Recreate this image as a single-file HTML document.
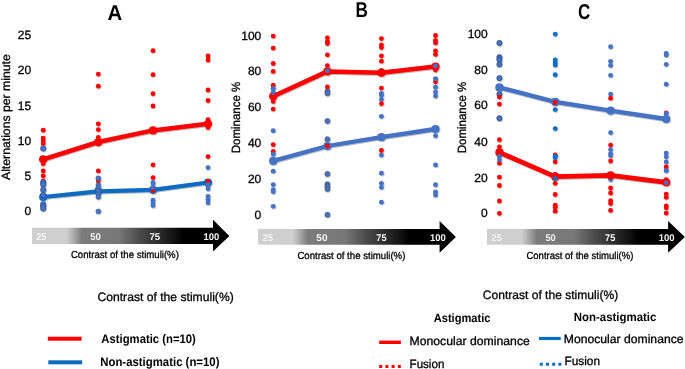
<!DOCTYPE html>
<html><head><meta charset="utf-8"><style>
html,body{margin:0;padding:0;background:#fff;}
body{width:685px;height:369px;overflow:hidden;}
svg{display:block;font-family:"Liberation Sans",sans-serif;will-change:transform;text-rendering:geometricPrecision;}
</style></head><body>
<svg width="685" height="369" viewBox="0 0 685 369" fill="#000">
<defs>
<linearGradient id="gA" gradientUnits="userSpaceOnUse" x1="0" y1="0" x2="197.5" y2="0">
<stop offset="0" stop-color="#d0cfd0"/>
<stop offset="0.175" stop-color="#d0cfd0"/>
<stop offset="0.20" stop-color="#b6b6b6"/>
<stop offset="0.22" stop-color="#a0a0a0"/>
<stop offset="0.237" stop-color="#8c8c8c"/>
<stop offset="0.252" stop-color="#7c7c7c"/>
<stop offset="0.44" stop-color="#787878"/>
<stop offset="0.548" stop-color="#4a4a4a"/>
<stop offset="0.65" stop-color="#2a2a2a"/>
<stop offset="0.727" stop-color="#101010"/>
<stop offset="0.765" stop-color="#000"/>
<stop offset="1" stop-color="#000"/>
</linearGradient>
<filter id="sh" x="-50%" y="-50%" width="200%" height="200%">
<feDropShadow dx="0.6" dy="0.8" stdDeviation="0.5" flood-color="#000" flood-opacity="0.35"/>
</filter>
</defs>
<g filter="url(#sh)">
<polyline points="43.2,159.3 98.3,142.0 153.0,130.4 208.0,123.8" fill="none" stroke="#ff0000" stroke-width="4.5" stroke-linejoin="round" stroke-linecap="round"/><circle cx="43.2" cy="159.3" r="4.1" fill="#ff0000"/><circle cx="98.3" cy="142.0" r="4.1" fill="#ff0000"/><circle cx="153.0" cy="130.4" r="4.1" fill="#ff0000"/><circle cx="208.0" cy="123.8" r="4.1" fill="#ff0000"/>
<polyline points="43.2,197.0 98.3,191.3 153.0,189.8 208.0,182.5" fill="none" stroke="#0b6cc0" stroke-width="4.2" stroke-linejoin="round" stroke-linecap="round"/><circle cx="43.2" cy="197.0" r="4.1" fill="#0b6cc0"/><circle cx="98.3" cy="191.3" r="4.1" fill="#0b6cc0"/><circle cx="153.0" cy="189.8" r="4.1" fill="#0b6cc0"/><circle cx="208.0" cy="182.5" r="4.1" fill="#0b6cc0"/>
<circle cx="43.2" cy="130.2" r="2.4" fill="#ff0000"/><circle cx="43.2" cy="138.1" r="2.4" fill="#ff0000"/><circle cx="43.2" cy="141.0" r="2.4" fill="#ff0000"/><circle cx="43.2" cy="143.7" r="2.4" fill="#ff0000"/><circle cx="43.2" cy="163.7" r="2.4" fill="#ff0000"/><circle cx="43.2" cy="171.0" r="2.4" fill="#ff0000"/><circle cx="43.2" cy="175.8" r="2.4" fill="#ff0000"/><circle cx="43.2" cy="181.0" r="2.4" fill="#ff0000"/><circle cx="43.2" cy="195.0" r="2.4" fill="#ff0000"/><circle cx="98.3" cy="74.1" r="2.4" fill="#ff0000"/><circle cx="98.3" cy="86.2" r="2.4" fill="#ff0000"/><circle cx="98.3" cy="123.8" r="2.4" fill="#ff0000"/><circle cx="98.3" cy="129.6" r="2.4" fill="#ff0000"/><circle cx="98.3" cy="137.4" r="2.4" fill="#ff0000"/><circle cx="98.3" cy="144.1" r="2.4" fill="#ff0000"/><circle cx="98.3" cy="170.9" r="2.4" fill="#ff0000"/><circle cx="98.3" cy="180.9" r="2.4" fill="#ff0000"/><circle cx="153.0" cy="50.7" r="2.4" fill="#ff0000"/><circle cx="153.0" cy="74.7" r="2.4" fill="#ff0000"/><circle cx="153.0" cy="93.7" r="2.4" fill="#ff0000"/><circle cx="153.0" cy="106.0" r="2.4" fill="#ff0000"/><circle cx="153.0" cy="164.8" r="2.4" fill="#ff0000"/><circle cx="153.0" cy="177.6" r="2.4" fill="#ff0000"/><circle cx="153.0" cy="190.5" r="2.4" fill="#ff0000"/><circle cx="208.0" cy="56.0" r="2.4" fill="#ff0000"/><circle cx="208.0" cy="60.0" r="2.4" fill="#ff0000"/><circle cx="208.0" cy="90.0" r="2.4" fill="#ff0000"/><circle cx="208.0" cy="100.5" r="2.4" fill="#ff0000"/><circle cx="208.0" cy="119.6" r="2.4" fill="#ff0000"/><circle cx="208.0" cy="127.6" r="2.4" fill="#ff0000"/><circle cx="208.0" cy="156.6" r="2.4" fill="#ff0000"/><circle cx="208.0" cy="181.4" r="2.4" fill="#ff0000"/>
<circle cx="43.2" cy="148.4" r="2.75" fill="#4472c4" stroke="#2f4f8f" stroke-width="0.6"/><circle cx="43.2" cy="182.3" r="2.75" fill="#4472c4" stroke="#2f4f8f" stroke-width="0.6"/><circle cx="43.2" cy="184.4" r="2.75" fill="#4472c4" stroke="#2f4f8f" stroke-width="0.6"/><circle cx="43.2" cy="189.8" r="2.75" fill="#4472c4" stroke="#2f4f8f" stroke-width="0.6"/><circle cx="43.2" cy="195.0" r="2.75" fill="#4472c4" stroke="#2f4f8f" stroke-width="0.6"/><circle cx="43.2" cy="204.3" r="2.75" fill="#4472c4" stroke="#2f4f8f" stroke-width="0.6"/><circle cx="43.2" cy="206.3" r="2.75" fill="#4472c4" stroke="#2f4f8f" stroke-width="0.6"/><circle cx="43.2" cy="208.4" r="2.75" fill="#4472c4" stroke="#2f4f8f" stroke-width="0.6"/><circle cx="98.3" cy="178.2" r="2.45" fill="#4472c4" stroke="#3a5a90" stroke-width="0.5"/><circle cx="98.3" cy="185.0" r="2.45" fill="#4472c4" stroke="#3a5a90" stroke-width="0.5"/><circle cx="98.3" cy="188.0" r="2.45" fill="#4472c4" stroke="#3a5a90" stroke-width="0.5"/><circle cx="98.3" cy="191.0" r="2.45" fill="#4472c4" stroke="#3a5a90" stroke-width="0.5"/><circle cx="98.3" cy="194.0" r="2.45" fill="#4472c4" stroke="#3a5a90" stroke-width="0.5"/><circle cx="98.3" cy="197.0" r="2.45" fill="#4472c4" stroke="#3a5a90" stroke-width="0.5"/><circle cx="98.3" cy="211.4" r="2.45" fill="#4472c4" stroke="#3a5a90" stroke-width="0.5"/><circle cx="153.0" cy="182.4" r="2.4" fill="#4472c4"/><circle cx="153.0" cy="183.8" r="2.4" fill="#4472c4"/><circle cx="153.0" cy="187.6" r="2.4" fill="#4472c4"/><circle cx="153.0" cy="200.2" r="2.4" fill="#4472c4"/><circle cx="153.0" cy="202.5" r="2.4" fill="#4472c4"/><circle cx="153.0" cy="205.5" r="2.4" fill="#4472c4"/><circle cx="208.0" cy="167.6" r="2.4" fill="#4472c4"/><circle cx="208.0" cy="184.6" r="2.4" fill="#4472c4"/><circle cx="208.0" cy="186.8" r="2.4" fill="#4472c4"/><circle cx="208.0" cy="188.8" r="2.4" fill="#4472c4"/><circle cx="208.0" cy="196.3" r="2.4" fill="#4472c4"/><circle cx="208.0" cy="199.6" r="2.4" fill="#4472c4"/><circle cx="208.0" cy="202.8" r="2.4" fill="#4472c4"/>
<circle cx="273.2" cy="88.5" r="2.4" fill="#4472c4"/><circle cx="273.2" cy="92.6" r="2.4" fill="#4472c4"/><circle cx="273.2" cy="130.7" r="2.4" fill="#4472c4"/><circle cx="273.2" cy="154.1" r="2.4" fill="#4472c4"/><circle cx="273.2" cy="171.2" r="2.4" fill="#4472c4"/><circle cx="273.2" cy="184.6" r="2.4" fill="#4472c4"/><circle cx="273.2" cy="189.6" r="2.4" fill="#4472c4"/><circle cx="273.2" cy="191.7" r="2.4" fill="#4472c4"/><circle cx="273.2" cy="206.3" r="2.4" fill="#4472c4"/><circle cx="327.4" cy="91.3" r="2.5" fill="#4472c4" stroke="#4b5570" stroke-width="0.7"/><circle cx="327.4" cy="93.3" r="2.5" fill="#4472c4" stroke="#4b5570" stroke-width="0.7"/><circle cx="327.4" cy="121.0" r="2.5" fill="#4472c4" stroke="#4b5570" stroke-width="0.7"/><circle cx="327.4" cy="139.2" r="2.5" fill="#4472c4" stroke="#4b5570" stroke-width="0.7"/><circle cx="327.4" cy="173.9" r="2.5" fill="#4472c4" stroke="#4b5570" stroke-width="0.7"/><circle cx="327.4" cy="184.2" r="2.5" fill="#4472c4" stroke="#4b5570" stroke-width="0.7"/><circle cx="327.4" cy="186.3" r="2.5" fill="#4472c4" stroke="#4b5570" stroke-width="0.7"/><circle cx="327.4" cy="189.0" r="2.5" fill="#4472c4" stroke="#4b5570" stroke-width="0.7"/><circle cx="327.4" cy="214.7" r="2.5" fill="#4472c4" stroke="#4b5570" stroke-width="0.7"/><circle cx="381.4" cy="70.3" r="2.4" fill="#4472c4"/><circle cx="381.4" cy="93.3" r="2.4" fill="#4472c4"/><circle cx="381.4" cy="95.3" r="2.4" fill="#4472c4"/><circle cx="381.4" cy="99.4" r="2.4" fill="#4472c4"/><circle cx="381.4" cy="116.3" r="2.4" fill="#4472c4"/><circle cx="381.4" cy="155.1" r="2.4" fill="#4472c4"/><circle cx="381.4" cy="173.2" r="2.4" fill="#4472c4"/><circle cx="381.4" cy="183.3" r="2.4" fill="#4472c4"/><circle cx="381.4" cy="187.3" r="2.4" fill="#4472c4"/><circle cx="381.4" cy="202.2" r="2.4" fill="#4472c4"/><circle cx="435.5" cy="78.8" r="2.4" fill="#4472c4"/><circle cx="435.5" cy="87.2" r="2.4" fill="#4472c4"/><circle cx="435.5" cy="91.9" r="2.4" fill="#4472c4"/><circle cx="435.5" cy="96.0" r="2.4" fill="#4472c4"/><circle cx="435.5" cy="135.7" r="2.4" fill="#4472c4"/><circle cx="435.5" cy="164.9" r="2.4" fill="#4472c4"/><circle cx="435.5" cy="184.7" r="2.4" fill="#4472c4"/><circle cx="435.5" cy="192.0" r="2.4" fill="#4472c4"/><circle cx="435.5" cy="195.0" r="2.4" fill="#4472c4"/>
<circle cx="273.2" cy="36.1" r="2.4" fill="#ff0000"/><circle cx="273.2" cy="48.1" r="2.4" fill="#ff0000"/><circle cx="273.2" cy="63.5" r="2.4" fill="#ff0000"/><circle cx="273.2" cy="71.4" r="2.4" fill="#ff0000"/><circle cx="273.2" cy="85.2" r="2.4" fill="#ff0000"/><circle cx="273.2" cy="101.4" r="2.4" fill="#ff0000"/><circle cx="273.2" cy="109.1" r="2.4" fill="#ff0000"/><circle cx="273.2" cy="144.6" r="2.4" fill="#ff0000"/><circle cx="273.2" cy="151.4" r="2.4" fill="#ff0000"/><circle cx="327.4" cy="37.8" r="2.4" fill="#ff0000"/><circle cx="327.4" cy="41.6" r="2.4" fill="#ff0000"/><circle cx="327.4" cy="43.6" r="2.4" fill="#ff0000"/><circle cx="327.4" cy="54.8" r="2.4" fill="#ff0000"/><circle cx="327.4" cy="65.7" r="2.4" fill="#ff0000"/><circle cx="327.4" cy="86.9" r="2.4" fill="#ff0000"/><circle cx="381.4" cy="38.6" r="2.4" fill="#ff0000"/><circle cx="381.4" cy="44.9" r="2.4" fill="#ff0000"/><circle cx="381.4" cy="47.6" r="2.4" fill="#ff0000"/><circle cx="381.4" cy="55.8" r="2.4" fill="#ff0000"/><circle cx="381.4" cy="61.2" r="2.4" fill="#ff0000"/><circle cx="381.4" cy="88.1" r="2.4" fill="#ff0000"/><circle cx="381.4" cy="103.7" r="2.4" fill="#ff0000"/><circle cx="381.4" cy="150.5" r="2.4" fill="#ff0000"/><circle cx="435.5" cy="35.5" r="2.4" fill="#ff0000"/><circle cx="435.5" cy="40.5" r="2.4" fill="#ff0000"/><circle cx="435.5" cy="42.9" r="2.4" fill="#ff0000"/><circle cx="435.5" cy="50.8" r="2.4" fill="#ff0000"/><circle cx="435.5" cy="54.4" r="2.4" fill="#ff0000"/><circle cx="435.5" cy="70.0" r="2.4" fill="#ff0000"/><circle cx="435.5" cy="81.8" r="2.4" fill="#ff0000"/>
<polyline points="273.2,96.3 327.4,71.4 381.4,72.7 435.5,66.6" fill="none" stroke="#ff0000" stroke-width="4.5" stroke-linejoin="round" stroke-linecap="round"/><circle cx="273.2" cy="96.3" r="4.1" fill="#ff0000"/><circle cx="327.4" cy="71.4" r="4.1" fill="#ff0000"/><circle cx="381.4" cy="72.7" r="4.1" fill="#ff0000"/><circle cx="435.5" cy="66.6" r="4.1" fill="#ff0000"/>
<circle cx="273.2" cy="88.5" r="2.4" fill="#4472c4"/><circle cx="273.2" cy="92.6" r="2.4" fill="#4472c4"/><circle cx="273.2" cy="154.1" r="2.4" fill="#4472c4"/><circle cx="327.4" cy="70.7" r="2.4" fill="#4472c4"/><circle cx="435.5" cy="65.9" r="2.4" fill="#4472c4"/><circle cx="435.5" cy="78.8" r="2.4" fill="#4472c4"/>
<polyline points="273.2,160.9 327.4,146.0 381.4,137.2 435.5,129.0" fill="none" stroke="#4472c4" stroke-width="4.3" stroke-linejoin="round" stroke-linecap="round"/><circle cx="273.2" cy="160.9" r="4.1" fill="#4472c4"/><circle cx="327.4" cy="146.0" r="4.1" fill="#4472c4"/><circle cx="381.4" cy="137.2" r="4.1" fill="#4472c4"/><circle cx="435.5" cy="129.0" r="4.1" fill="#4472c4"/>
<circle cx="327.4" cy="146.0" r="2.4" fill="#ff0000"/>
<circle cx="499.4" cy="42.9" r="2.6" fill="#4472c4" stroke="#2d4680" stroke-width="0.7"/><circle cx="499.4" cy="57.2" r="2.6" fill="#4472c4" stroke="#2d4680" stroke-width="0.7"/><circle cx="499.4" cy="59.6" r="2.6" fill="#4472c4" stroke="#2d4680" stroke-width="0.7"/><circle cx="499.4" cy="64.3" r="2.6" fill="#4472c4" stroke="#2d4680" stroke-width="0.7"/><circle cx="499.4" cy="78.1" r="2.6" fill="#4472c4" stroke="#2d4680" stroke-width="0.7"/><circle cx="499.4" cy="94.1" r="2.6" fill="#4472c4" stroke="#2d4680" stroke-width="0.7"/><circle cx="499.4" cy="118.2" r="2.6" fill="#4472c4" stroke="#2d4680" stroke-width="0.7"/><circle cx="555.2" cy="34.1" r="2.45" fill="#0f6fc6"/><circle cx="555.2" cy="60.0" r="2.45" fill="#0f6fc6"/><circle cx="555.2" cy="63.0" r="2.45" fill="#0f6fc6"/><circle cx="555.2" cy="65.0" r="2.45" fill="#0f6fc6"/><circle cx="555.2" cy="74.8" r="2.45" fill="#0f6fc6"/><circle cx="555.2" cy="109.6" r="2.45" fill="#0f6fc6"/><circle cx="555.2" cy="128.6" r="2.45" fill="#0f6fc6"/><circle cx="610.6" cy="46.7" r="2.4" fill="#4472c4"/><circle cx="610.6" cy="61.3" r="2.4" fill="#4472c4"/><circle cx="610.6" cy="65.4" r="2.4" fill="#4472c4"/><circle cx="610.6" cy="75.3" r="2.4" fill="#4472c4"/><circle cx="610.6" cy="94.1" r="2.4" fill="#4472c4"/><circle cx="610.6" cy="132.6" r="2.4" fill="#4472c4"/><circle cx="610.6" cy="149.6" r="2.4" fill="#4472c4"/><circle cx="610.6" cy="153.6" r="2.4" fill="#4472c4"/><circle cx="610.6" cy="155.7" r="2.4" fill="#4472c4"/><circle cx="610.6" cy="179.5" r="2.4" fill="#4472c4"/><circle cx="666.2" cy="53.5" r="2.4" fill="#4472c4"/><circle cx="666.2" cy="55.0" r="2.4" fill="#4472c4"/><circle cx="666.2" cy="64.3" r="2.4" fill="#4472c4"/><circle cx="666.2" cy="84.2" r="2.4" fill="#4472c4"/><circle cx="666.2" cy="153.1" r="2.4" fill="#4472c4"/><circle cx="666.2" cy="156.8" r="2.4" fill="#4472c4"/><circle cx="666.2" cy="162.0" r="2.4" fill="#4472c4"/><circle cx="666.2" cy="170.5" r="2.4" fill="#4472c4"/>
<polyline points="499.4,87.4 555.2,101.9 610.6,110.7 666.2,119.0" fill="none" stroke="#4472c4" stroke-width="4.4" stroke-linejoin="round" stroke-linecap="round"/><circle cx="499.4" cy="87.4" r="4.1" fill="#4472c4"/><circle cx="555.2" cy="101.9" r="4.1" fill="#4472c4"/><circle cx="610.6" cy="110.7" r="4.1" fill="#4472c4"/><circle cx="666.2" cy="119.0" r="4.1" fill="#4472c4"/>
<circle cx="555.2" cy="102.5" r="2.4" fill="#ff0000"/>
<circle cx="499.4" cy="97.1" r="2.4" fill="#ff0000"/><circle cx="499.4" cy="104.1" r="2.4" fill="#ff0000"/><circle cx="499.4" cy="139.7" r="2.4" fill="#ff0000"/><circle cx="499.4" cy="146.8" r="2.4" fill="#ff0000"/><circle cx="499.4" cy="163.2" r="2.4" fill="#ff0000"/><circle cx="499.4" cy="177.1" r="2.4" fill="#ff0000"/><circle cx="499.4" cy="185.5" r="2.4" fill="#ff0000"/><circle cx="499.4" cy="201.0" r="2.4" fill="#ff0000"/><circle cx="499.4" cy="213.3" r="2.4" fill="#ff0000"/><circle cx="555.2" cy="155.0" r="2.4" fill="#ff0000"/><circle cx="555.2" cy="161.8" r="2.4" fill="#ff0000"/><circle cx="555.2" cy="174.3" r="2.4" fill="#ff0000"/><circle cx="555.2" cy="183.3" r="2.4" fill="#ff0000"/><circle cx="555.2" cy="194.5" r="2.4" fill="#ff0000"/><circle cx="555.2" cy="205.2" r="2.4" fill="#ff0000"/><circle cx="555.2" cy="207.2" r="2.4" fill="#ff0000"/><circle cx="555.2" cy="211.2" r="2.4" fill="#ff0000"/><circle cx="610.6" cy="98.2" r="2.4" fill="#ff0000"/><circle cx="610.6" cy="145.1" r="2.4" fill="#ff0000"/><circle cx="610.6" cy="161.0" r="2.4" fill="#ff0000"/><circle cx="610.6" cy="188.0" r="2.4" fill="#ff0000"/><circle cx="610.6" cy="193.0" r="2.4" fill="#ff0000"/><circle cx="610.6" cy="200.7" r="2.4" fill="#ff0000"/><circle cx="610.6" cy="203.6" r="2.4" fill="#ff0000"/><circle cx="610.6" cy="210.4" r="2.4" fill="#ff0000"/><circle cx="666.2" cy="113.0" r="2.4" fill="#ff0000"/><circle cx="666.2" cy="167.0" r="2.4" fill="#ff0000"/><circle cx="666.2" cy="179.6" r="2.4" fill="#ff0000"/><circle cx="666.2" cy="194.1" r="2.4" fill="#ff0000"/><circle cx="666.2" cy="197.3" r="2.4" fill="#ff0000"/><circle cx="666.2" cy="206.0" r="2.4" fill="#ff0000"/><circle cx="666.2" cy="207.8" r="2.4" fill="#ff0000"/><circle cx="666.2" cy="213.1" r="2.4" fill="#ff0000"/>
<polyline points="499.4,152.4 555.2,176.7 610.6,175.4 666.2,182.3" fill="none" stroke="#ff0000" stroke-width="4.7" stroke-linejoin="round" stroke-linecap="round"/><circle cx="499.4" cy="152.4" r="4.1" fill="#ff0000"/><circle cx="555.2" cy="176.7" r="4.1" fill="#ff0000"/><circle cx="610.6" cy="175.4" r="4.1" fill="#ff0000"/><circle cx="666.2" cy="182.3" r="4.1" fill="#ff0000"/>
<circle cx="499.4" cy="156.3" r="2.4" fill="#4472c4"/><circle cx="499.4" cy="159.7" r="2.4" fill="#4472c4"/><circle cx="555.2" cy="156.3" r="2.45" fill="#0f6fc6"/><circle cx="555.2" cy="157.7" r="2.45" fill="#0f6fc6"/><circle cx="555.2" cy="178.7" r="2.45" fill="#0f6fc6"/><circle cx="666.2" cy="182.8" r="2.4" fill="#4472c4"/>
<circle cx="666.2" cy="113.6" r="2.4" fill="#4472c4"/><circle cx="666.2" cy="170.5" r="2.4" fill="#4472c4"/>
</g>
<text x="31.2" y="39.2" text-anchor="end" font-size="12" stroke="#000" stroke-width="0.3">25</text><text x="31.2" y="74.4" text-anchor="end" font-size="12" stroke="#000" stroke-width="0.3">20</text><text x="31.2" y="109.7" text-anchor="end" font-size="12" stroke="#000" stroke-width="0.3">15</text><text x="31.2" y="145.3" text-anchor="end" font-size="12" stroke="#000" stroke-width="0.3">10</text><text x="31.2" y="180.4" text-anchor="end" font-size="12" stroke="#000" stroke-width="0.3">5</text><text x="31.2" y="215.4" text-anchor="end" font-size="12" stroke="#000" stroke-width="0.3">0</text>
<text x="261.3" y="40.1" text-anchor="end" font-size="12" stroke="#000" stroke-width="0.3">100</text><text x="261.3" y="75.4" text-anchor="end" font-size="12" stroke="#000" stroke-width="0.3">80</text><text x="261.3" y="111.0" text-anchor="end" font-size="12" stroke="#000" stroke-width="0.3">60</text><text x="261.3" y="146.8" text-anchor="end" font-size="12" stroke="#000" stroke-width="0.3">40</text><text x="261.3" y="183.0" text-anchor="end" font-size="12" stroke="#000" stroke-width="0.3">20</text><text x="261.3" y="218.6" text-anchor="end" font-size="12" stroke="#000" stroke-width="0.3">0</text>
<text x="487.7" y="38.0" text-anchor="end" font-size="12" stroke="#000" stroke-width="0.3">100</text><text x="487.7" y="73.6" text-anchor="end" font-size="12" stroke="#000" stroke-width="0.3">80</text><text x="487.7" y="109.4" text-anchor="end" font-size="12" stroke="#000" stroke-width="0.3">60</text><text x="487.7" y="145.6" text-anchor="end" font-size="12" stroke="#000" stroke-width="0.3">40</text><text x="487.7" y="181.8" text-anchor="end" font-size="12" stroke="#000" stroke-width="0.3">20</text><text x="487.7" y="217.0" text-anchor="end" font-size="12" stroke="#000" stroke-width="0.3">0</text>
<text transform="translate(10.40,180.02) rotate(-90)" font-size="12" stroke="#000" stroke-width="0.3" textLength="125.77" lengthAdjust="spacingAndGlyphs">Alternations per minute</text>
<text transform="translate(239.60,153.24) rotate(-90)" font-size="12" stroke="#000" stroke-width="0.3" textLength="71.44" lengthAdjust="spacingAndGlyphs">Dominance %</text>
<text transform="translate(466.30,153.24) rotate(-90)" font-size="12" stroke="#000" stroke-width="0.3" textLength="71.44" lengthAdjust="spacingAndGlyphs">Dominance %</text>
<text x="107.61" y="19.90" font-size="21.6" font-weight="bold" textLength="14.72" lengthAdjust="spacingAndGlyphs">A</text>
<text x="355.57" y="17.10" font-size="21.4" font-weight="bold" textLength="12.41" lengthAdjust="spacingAndGlyphs">B</text>
<text x="578.00" y="18.80" font-size="21.4" font-weight="bold" textLength="12.26" lengthAdjust="spacingAndGlyphs">C</text>
<g transform="translate(32,0)"><path d="M0,227.8 L181,227.8 L181,219.8 L197.4,235.9 L181,251.6 L181,243.9 L0,243.9 Z" fill="url(#gA)"/></g>
<g transform="translate(258,0)"><path d="M0,229.1 L181.60000000000002,229.1 L181.60000000000002,221.1 L197.89999999999998,237 L181.60000000000002,252.7 L181.60000000000002,244.7 L0,244.7 Z" fill="url(#gA)"/></g>
<g transform="translate(487,0)"><path d="M0,229.1 L181.10000000000002,229.1 L181.10000000000002,221.1 L197.89999999999998,237 L181.10000000000002,252.7 L181.10000000000002,244.7 L0,244.7 Z" fill="url(#gA)"/></g>
<text x="36.29" y="239.60" font-size="9.8" font-weight="bold" fill="#f4f4f4" textLength="10.16" lengthAdjust="spacingAndGlyphs">25</text>
<text x="90.21" y="239.60" font-size="9.8" font-weight="bold" fill="#f4f4f4" textLength="10.67" lengthAdjust="spacingAndGlyphs">50</text>
<text x="149.49" y="239.60" font-size="9.8" font-weight="bold" fill="#f4f4f4" textLength="10.77" lengthAdjust="spacingAndGlyphs">75</text>
<text x="203.61" y="239.60" font-size="9.8" font-weight="bold" fill="#f4f4f4" textLength="15.77" lengthAdjust="spacingAndGlyphs">100</text>
<text x="262.48" y="240.80" font-size="9.7" font-weight="bold" fill="#f4f4f4" textLength="10.58" lengthAdjust="spacingAndGlyphs">25</text>
<text x="316.30" y="240.80" font-size="9.7" font-weight="bold" fill="#f4f4f4" textLength="11.21" lengthAdjust="spacingAndGlyphs">50</text>
<text x="376.31" y="240.80" font-size="9.7" font-weight="bold" fill="#f4f4f4" textLength="10.24" lengthAdjust="spacingAndGlyphs">75</text>
<text x="429.91" y="240.80" font-size="9.7" font-weight="bold" fill="#f4f4f4" textLength="15.77" lengthAdjust="spacingAndGlyphs">100</text>
<text x="491.59" y="240.80" font-size="9.7" font-weight="bold" fill="#f4f4f4" textLength="10.16" lengthAdjust="spacingAndGlyphs">25</text>
<text x="545.42" y="240.80" font-size="9.7" font-weight="bold" fill="#f4f4f4" textLength="10.25" lengthAdjust="spacingAndGlyphs">50</text>
<text x="605.11" y="240.80" font-size="9.7" font-weight="bold" fill="#f4f4f4" textLength="10.24" lengthAdjust="spacingAndGlyphs">75</text>
<text x="658.71" y="240.80" font-size="9.7" font-weight="bold" fill="#f4f4f4" textLength="15.87" lengthAdjust="spacingAndGlyphs">100</text>
<text x="70.92" y="257.80" font-size="10.2" stroke="#000" stroke-width="0.3" textLength="107.97" lengthAdjust="spacingAndGlyphs">Contrast of the stimuli(%)</text>
<text x="297.42" y="258.70" font-size="10.2" stroke="#000" stroke-width="0.3" textLength="107.97" lengthAdjust="spacingAndGlyphs">Contrast of the stimuli(%)</text>
<text x="526.42" y="258.70" font-size="10.2" stroke="#000" stroke-width="0.3" textLength="106.96" lengthAdjust="spacingAndGlyphs">Contrast of the stimuli(%)</text>
<text x="97.49" y="301.00" font-size="12.2" stroke="#000" stroke-width="0.3" textLength="136.25" lengthAdjust="spacingAndGlyphs">Contrast of the stimuli(%)</text>
<text x="482.80" y="298.60" font-size="12.2" stroke="#000" stroke-width="0.3" textLength="135.35" lengthAdjust="spacingAndGlyphs">Contrast of the stimuli(%)</text>
<rect x="47.8" y="336.7" width="33.8" height="4" fill="#ff0000"/>
<rect x="48.3" y="360.3" width="33.9" height="4" fill="#0b6cc0"/>
<text x="101.33" y="342.70" font-size="12.4" font-weight="bold" textLength="94.53" lengthAdjust="spacingAndGlyphs">Astigmatic (n=10)</text>
<text x="100.25" y="365.80" font-size="12.4" font-weight="bold" textLength="119.21" lengthAdjust="spacingAndGlyphs">Non-astigmatic (n=10)</text>
<text x="433.73" y="322.20" font-size="12" font-weight="bold" textLength="56.79" lengthAdjust="spacingAndGlyphs">Astigmatic</text>
<text x="573.75" y="321.00" font-size="12" font-weight="bold" textLength="82.59" lengthAdjust="spacingAndGlyphs">Non-astigmatic</text>
<rect x="379.2" y="340.6" width="21.7" height="3.4" fill="#ff0000"/>
<line x1="379.2" y1="366.4" x2="401" y2="366.4" stroke="#ff0000" stroke-width="3" stroke-dasharray="3,3.2"/>
<text x="409.50" y="344.70" font-size="12" stroke="#000" stroke-width="0.3" textLength="120.34" lengthAdjust="spacingAndGlyphs">Monocular dominance</text>
<text x="409.55" y="368.00" font-size="12" stroke="#000" stroke-width="0.3" textLength="34.80" lengthAdjust="spacingAndGlyphs">Fusion</text>
<rect x="539" y="336.9" width="21.7" height="3.2" fill="#0b6cc0"/>
<line x1="539.8" y1="364.3" x2="561.4" y2="364.3" stroke="#0b6cc0" stroke-width="3" stroke-dasharray="3,3.2"/>
<text x="563.80" y="343.20" font-size="12" stroke="#000" stroke-width="0.3" textLength="119.73" lengthAdjust="spacingAndGlyphs">Monocular dominance</text>
<text x="564.53" y="365.20" font-size="12" stroke="#000" stroke-width="0.3" textLength="35.53" lengthAdjust="spacingAndGlyphs">Fusion</text>
</svg>
</body></html>
